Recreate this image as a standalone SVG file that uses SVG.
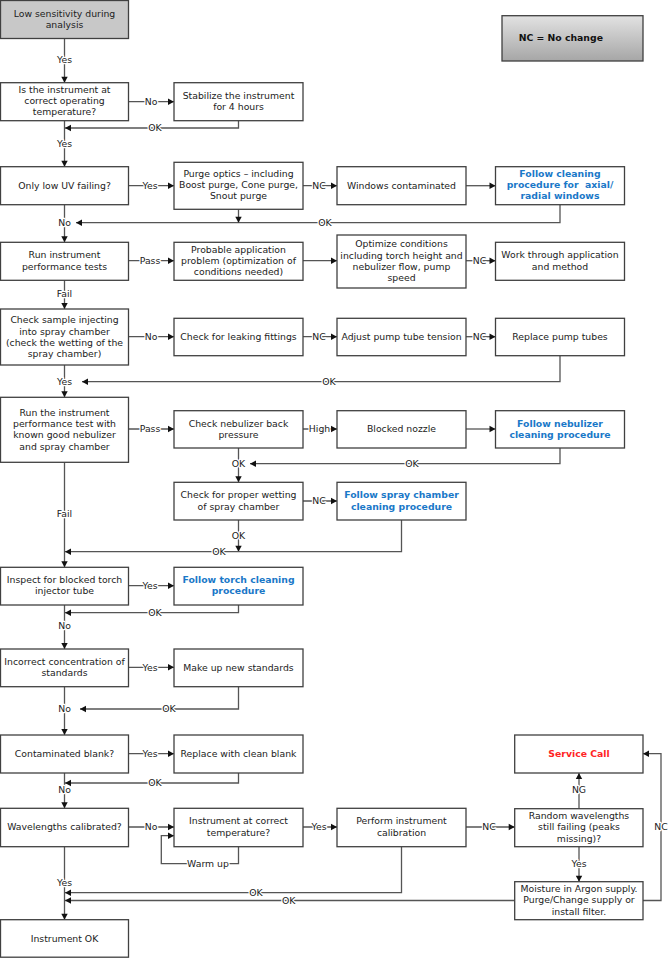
<svg xmlns="http://www.w3.org/2000/svg" width="668" height="958" viewBox="0 0 668 958">
<defs>
<linearGradient id="lg" x1="0" y1="0" x2="0" y2="1">
<stop offset="0" stop-color="#e2e2e2"/>
<stop offset="1" stop-color="#a6a6a6"/>
</linearGradient>
<marker id="ah" markerUnits="userSpaceOnUse" markerWidth="8" markerHeight="8" viewBox="0 0 8 8" refX="7" refY="4" orient="auto">
<path d="M1,0.8 L7,4 L1,7.2 Z" fill="#111"/>
</marker>
<style>
.b{fill:#fff;stroke:#404040;stroke-width:1.3}
.t{font-family:"DejaVu Sans",Verdana,sans-serif;font-size:9.3px;fill:#222;text-anchor:middle}
.bl{font-weight:bold;fill:#1a78c8}
.rd{font-weight:bold;fill:#ff2424}
.c{fill:none;stroke:#555;stroke-width:1.3}
.a{marker-end:url(#ah)}
.l{font-family:"DejaVu Sans",Verdana,sans-serif;font-size:9.3px;fill:#222;text-anchor:middle;paint-order:stroke;stroke:#fff;stroke-width:2.4px;stroke-linejoin:round}
</style>
</defs>
<rect width="668" height="958" fill="#fff"/>

<g id="connectors">
<path class="c a" d="M64.5,38.5 V82.7"/>
<path class="c a" d="M128.5,101.7 H174"/>
<path class="c a" d="M238.5,120.7 V128 H65"/>
<path class="c a" d="M64.5,120.7 V166.7"/>
<path class="c a" d="M128.5,185.7 H174"/>
<path class="c a" d="M303,185.7 H337"/>
<path class="c a" d="M466,185.7 H495.5"/>
<path class="c a" d="M560,204.7 V222.7 H76"/>
<path class="c a" d="M238.5,209.3 V222.7"/>
<path class="c a" d="M64.5,204.7 V242.3"/>
<path class="c a" d="M128.5,260.7 H174"/>
<path class="c a" d="M303,260.7 H337"/>
<path class="c a" d="M466,260.7 H495.5"/>
<path class="c a" d="M64.5,280 V309"/>
<path class="c a" d="M128.5,336.7 H174"/>
<path class="c a" d="M303,336.7 H337"/>
<path class="c a" d="M466,336.7 H495.5"/>
<path class="c a" d="M560,355.7 V381.7 H82"/>
<path class="c a" d="M64.5,365 V397.3"/>
<path class="c a" d="M128.5,429 H174"/>
<path class="c a" d="M303,429 H337"/>
<path class="c a" d="M466,429 H495.5"/>
<path class="c a" d="M560,448 V463.7 H250"/>
<path class="c a" d="M238.5,448 V482.3"/>
<path class="c a" d="M303,501 H337"/>
<path class="c a" d="M238.5,520 V551.7"/>
<path class="c a" d="M401.5,520 V551.7 H65"/>
<path class="c a" d="M64.5,462.3 V567.3"/>
<path class="c a" d="M128.5,585.7 H174"/>
<path class="c a" d="M238.5,605 V612.7 H65"/>
<path class="c a" d="M64.5,605 V649"/>
<path class="c a" d="M128.5,667.3 H174"/>
<path class="c a" d="M238.5,686.7 V709 H80"/>
<path class="c a" d="M64.5,686.7 V735"/>
<path class="c a" d="M128.5,753.7 H174"/>
<path class="c a" d="M238.5,773 V783 H65"/>
<path class="c a" d="M64.5,773 V808.3"/>
<path class="c a" d="M128.5,827 H174"/>
<path class="c a" d="M238.5,846.7 V863.7 H161.3 V835.7 H174"/>
<path class="c a" d="M303,827 H337"/>
<path class="c a" d="M466,827 H514.7"/>
<path class="c a" d="M579,808.7 V773"/>
<path class="c a" d="M579,846.7 V881.7"/>
<path class="c a" d="M643,900.5 H661 V753.7 H643"/>
<path class="c a" d="M401.5,846.7 V892.7 H65"/>
<path class="c a" d="M514.7,900.5 H65"/>
<path class="c a" d="M64.5,846.7 V919.7"/>

<text class="l" x="64.5" y="63.4">Yes</text>
<text class="l" x="151" y="105">No</text>
<text class="l" x="155" y="131.4">OK</text>
<text class="l" x="64.5" y="146.7">Yes</text>
<text class="l" x="150" y="189">Yes</text>
<text class="l" x="319" y="189">NC</text>
<text class="l" x="325" y="226">OK</text>
<text class="l" x="64.5" y="226">No</text>
<text class="l" x="150" y="264">Pass</text>
<text class="l" x="479.5" y="264">NC</text>
<text class="l" x="64.5" y="297.4">Fail</text>
<text class="l" x="151" y="340">No</text>
<text class="l" x="319" y="340">NC</text>
<text class="l" x="479.5" y="340">NC</text>
<text class="l" x="329" y="385">OK</text>
<text class="l" x="64.5" y="385">Yes</text>
<text class="l" x="150" y="432.3">Pass</text>
<text class="l" x="319.5" y="432.3">High</text>
<text class="l" x="412" y="467">OK</text>
<text class="l" x="238.5" y="467.3">OK</text>
<text class="l" x="319" y="504.3">NC</text>
<text class="l" x="238.5" y="539.4">OK</text>
<text class="l" x="219" y="555">OK</text>
<text class="l" x="64.5" y="516.7">Fail</text>
<text class="l" x="150" y="589">Yes</text>
<text class="l" x="155" y="616">OK</text>
<text class="l" x="64.5" y="629">No</text>
<text class="l" x="150" y="670.6">Yes</text>
<text class="l" x="169" y="712.3">OK</text>
<text class="l" x="64.5" y="712.3">No</text>
<text class="l" x="150" y="757">Yes</text>
<text class="l" x="155" y="786.3">OK</text>
<text class="l" x="64.5" y="793.4">No</text>
<text class="l" x="151" y="830.3">No</text>
<rect x="190" y="859" width="36" height="10" fill="#fff"/>
<text class="l" x="208" y="867">Warm up</text>
<text class="l" x="319" y="830.3">Yes</text>
<text class="l" x="489" y="830.3">NC</text>
<text class="l" x="579" y="793.4">NG</text>
<text class="l" x="579" y="866.7">Yes</text>
<text class="l" x="661" y="830">NC</text>
<text class="l" x="256" y="896">OK</text>
<text class="l" x="288.7" y="903.8">OK</text>
<text class="l" x="64.5" y="886">Yes</text>
</g>

<g id="legend">
<rect x="502" y="15.7" width="141" height="45.3" fill="url(#lg)" stroke="#404040" stroke-width="1.3"/>
<text class="t" x="518.7" y="40.7" style="text-anchor:start;font-weight:bold;fill:#111">NC = No change</text>
</g>

<g id="n0"><rect class="b" x="0.5" y="0.5" width="128" height="38" style="fill:#c8c8c8"/>
<text class="t" x="64.5" y="17.1">Low sensitivity during</text><text class="t" x="64.5" y="28.1">analysis</text></g>

<g id="n1"><rect class="b" x="0.5" y="82.7" width="128" height="38"/>
<text class="t" x="64.5" y="93.4">Is the instrument at</text><text class="t" x="64.5" y="104.4">correct operating</text><text class="t" x="64.5" y="115.4">temperature?</text></g>

<g id="n1b"><rect class="b" x="174" y="82.7" width="129" height="38"/>
<text class="t" x="238.5" y="99.4">Stabilize the instrument</text><text class="t" x="238.5" y="110.4">for 4 hours</text></g>

<g id="n2"><rect class="b" x="0.5" y="166.7" width="128" height="38"/>
<text class="t" x="64.5" y="189">Only low UV failing?</text></g>

<g id="n2b"><rect class="b" x="174" y="162.3" width="129" height="47"/>
<text class="t" x="238.5" y="177.4">Purge optics – including</text><text class="t" x="238.5" y="188.4">Boost purge, Cone purge,</text><text class="t" x="238.5" y="199.4">Snout purge</text></g>

<g id="n2c"><rect class="b" x="337" y="166.7" width="129" height="38"/>
<text class="t" x="401.5" y="189">Windows contaminated</text></g>

<g id="n2d"><rect class="b" x="495.5" y="166.7" width="129" height="38"/>
<text class="t bl" x="560" y="177.4">Follow cleaning</text><text class="t bl" x="560" y="188.4" xml:space="preserve">procedure for  axial/</text><text class="t bl" x="560" y="199.4">radial windows</text></g>

<g id="n3"><rect class="b" x="0.5" y="242.3" width="128" height="38"/>
<text class="t" x="64.5" y="258.4">Run instrument</text><text class="t" x="64.5" y="269.7">performance tests</text></g>

<g id="n3b"><rect class="b" x="174" y="242.3" width="129" height="38"/>
<text class="t" x="238.5" y="252.7">Probable application</text><text class="t" x="238.5" y="264">problem (optimization of</text><text class="t" x="238.5" y="275.4">conditions needed)</text></g>

<g id="n3c"><rect class="b" x="337" y="235" width="129" height="53"/>
<text class="t" x="401.5" y="247.4">Optimize conditions</text><text class="t" x="401.5" y="258.7">including torch height and</text><text class="t" x="401.5" y="270">nebulizer flow, pump</text><text class="t" x="401.5" y="281.4">speed</text></g>

<g id="n3d"><rect class="b" x="495.5" y="242.3" width="129" height="38"/>
<text class="t" x="560" y="258.4">Work through application</text><text class="t" x="560" y="269.7">and method</text></g>

<g id="n4"><rect class="b" x="0.5" y="309" width="128" height="56"/>
<text class="t" x="64.5" y="323.4">Check sample injecting</text><text class="t" x="64.5" y="334.6">into spray chamber</text><text class="t" x="64.5" y="345.8">(check the wetting of the</text><text class="t" x="64.5" y="357">spray chamber)</text></g>

<g id="n4b"><rect class="b" x="174" y="318.3" width="129" height="37.4"/>
<text class="t" x="238.5" y="340">Check for leaking fittings</text></g>

<g id="n4c"><rect class="b" x="337" y="318.3" width="129" height="37.4"/>
<text class="t" x="401.5" y="340">Adjust pump tube tension</text></g>

<g id="n4d"><rect class="b" x="495.5" y="318.3" width="129" height="37.4"/>
<text class="t" x="560" y="340">Replace pump tubes</text></g>

<g id="n5"><rect class="b" x="0.5" y="397.3" width="128" height="65"/>
<text class="t" x="64.5" y="415.7">Run the instrument</text><text class="t" x="64.5" y="427">performance test with</text><text class="t" x="64.5" y="438.4">known good nebulizer</text><text class="t" x="64.5" y="449.7">and spray chamber</text></g>

<g id="n5b"><rect class="b" x="174" y="410.7" width="129" height="37.3"/>
<text class="t" x="238.5" y="426.7">Check nebulizer back</text><text class="t" x="238.5" y="438">pressure</text></g>

<g id="n5c"><rect class="b" x="337" y="410.7" width="129" height="37.3"/>
<text class="t" x="401.5" y="432.3">Blocked nozzle</text></g>

<g id="n5d"><rect class="b" x="495.5" y="410.7" width="129" height="37.3"/>
<text class="t bl" x="560" y="426.7">Follow nebulizer</text><text class="t bl" x="560" y="438">cleaning procedure</text></g>

<g id="n6b"><rect class="b" x="174" y="482.3" width="129" height="37.7"/>
<text class="t" x="238.5" y="498.4">Check for proper wetting</text><text class="t" x="238.5" y="509.7">of spray chamber</text></g>

<g id="n6c"><rect class="b" x="337" y="482.3" width="129" height="37.7"/>
<text class="t bl" x="401.5" y="498.4">Follow spray chamber</text><text class="t bl" x="401.5" y="509.7">cleaning procedure</text></g>

<g id="n7"><rect class="b" x="0.5" y="567.3" width="128" height="37.7"/>
<text class="t" x="64.5" y="583.1">Inspect for blocked torch</text><text class="t" x="64.5" y="594.4">injector tube</text></g>

<g id="n7b"><rect class="b" x="174" y="567.3" width="129" height="37.7"/>
<text class="t bl" x="238.5" y="583.1">Follow torch cleaning</text><text class="t bl" x="238.5" y="594.4">procedure</text></g>

<g id="n8"><rect class="b" x="0.5" y="649" width="128" height="37.7"/>
<text class="t" x="64.5" y="665">Incorrect concentration of</text><text class="t" x="64.5" y="676.3">standards</text></g>

<g id="n8b"><rect class="b" x="174" y="649" width="129" height="37.7"/>
<text class="t" x="238.5" y="670.6">Make up new standards</text></g>

<g id="n9"><rect class="b" x="0.5" y="735" width="128" height="38"/>
<text class="t" x="64.5" y="757">Contaminated blank?</text></g>

<g id="n9b"><rect class="b" x="174" y="735" width="129" height="38"/>
<text class="t" x="238.5" y="757">Replace with clean blank</text></g>

<g id="n9d"><rect class="b" x="514.7" y="735" width="128.3" height="38"/>
<text class="t rd" x="579" y="757">Service Call</text></g>

<g id="n10"><rect class="b" x="0.5" y="808.3" width="128" height="38.4"/>
<text class="t" x="64.5" y="830.3">Wavelengths calibrated?</text></g>

<g id="n10b"><rect class="b" x="174" y="808.3" width="129" height="38.4"/>
<text class="t" x="238.5" y="824.4">Instrument at correct</text><text class="t" x="238.5" y="835.7">temperature?</text></g>

<g id="n10c"><rect class="b" x="337" y="808.3" width="129" height="38.4"/>
<text class="t" x="401.5" y="824.4">Perform instrument</text><text class="t" x="401.5" y="835.7">calibration</text></g>

<g id="n10d"><rect class="b" x="514.7" y="808.7" width="128.3" height="38"/>
<text class="t" x="579" y="819">Random wavelengths</text><text class="t" x="579" y="830.3">still failing (peaks</text><text class="t" x="579" y="841.6">missing)?</text></g>

<g id="n11d"><rect class="b" x="514.7" y="881.7" width="128.3" height="38"/>
<text class="t" x="579" y="892">Moisture in Argon supply.</text><text class="t" x="579" y="903.3">Purge/Change supply or</text><text class="t" x="579" y="914.6">install filter.</text></g>

<g id="n12"><rect class="b" x="0.5" y="919.7" width="128" height="37.5"/>
<text class="t" x="64.5" y="941.6">Instrument OK</text></g>
</svg>
